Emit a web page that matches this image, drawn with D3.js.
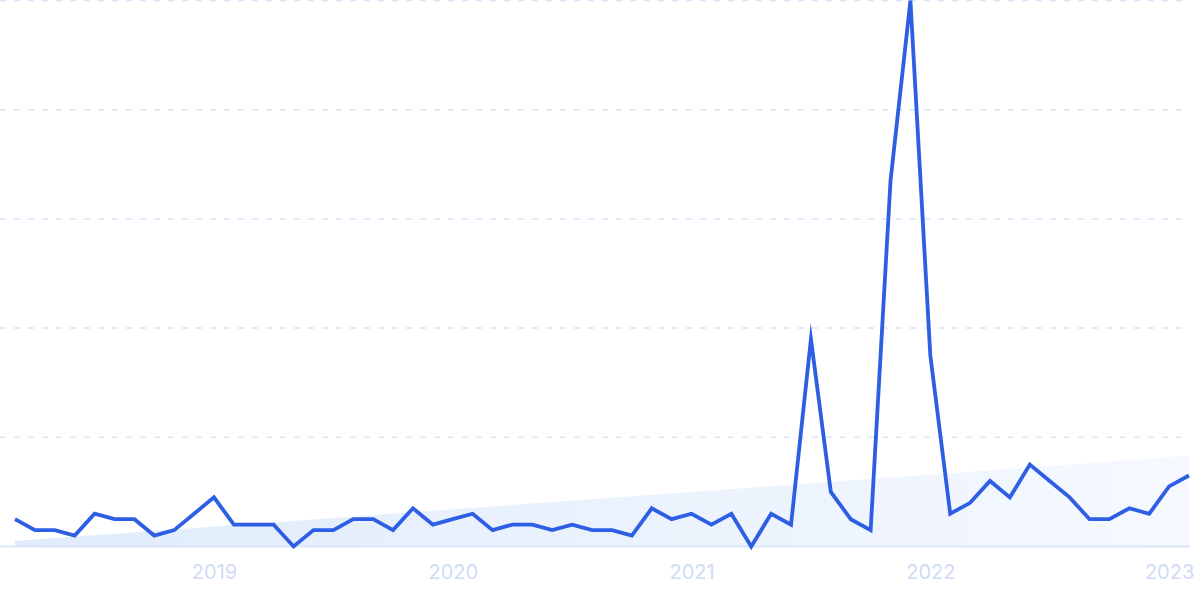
<!DOCTYPE html>
<html>
<head>
<meta charset="utf-8">
<script src="https://cdn.jsdelivr.net/npm/d3@7"></script>
<style>
  html, body { margin: 0; padding: 0; background: #ffffff; }
  svg { display: block; }
</style>
</head>
<body>
<svg id="chart" width="1200" height="599"></svg>
<script>
// Monthly categories, Mar 2018 – Feb 2023
const months = [
  "2018-03","2018-04","2018-05","2018-06","2018-07","2018-08","2018-09","2018-10","2018-11","2018-12",
  "2019-01","2019-02","2019-03","2019-04","2019-05","2019-06","2019-07","2019-08","2019-09","2019-10","2019-11","2019-12",
  "2020-01","2020-02","2020-03","2020-04","2020-05","2020-06","2020-07","2020-08","2020-09","2020-10","2020-11","2020-12",
  "2021-01","2021-02","2021-03","2021-04","2021-05","2021-06","2021-07","2021-08","2021-09","2021-10","2021-11","2021-12",
  "2022-01","2022-02","2022-03","2022-04","2022-05","2022-06","2022-07","2022-08","2022-09","2022-10","2022-11","2022-12",
  "2023-01","2023-02"
];
// Search interest values (0–100)
const values = [
  5, 3, 3, 2, 6, 5, 5, 2, 3, 6,
  9, 4, 4, 4, 0, 3, 3, 5, 5, 3, 7, 4,
  5, 6, 3, 4, 4, 3, 4, 3, 3, 2, 7, 5,
  6, 4, 6, 0, 6, 4, 38, 10, 5, 3, 67, 100,
  35, 6, 8, 12, 9, 15, 12, 9, 5, 5, 7, 6,
  11, 13
];
// Trend line start/end values
const trendValues = [1.0, 16.6];
// Axis tick labels
const tickMonths = ["2019-01","2020-01","2021-01","2022-01","2023-01"];
const tickLabels = ["2019","2020","2021","2022","2023"];
const gridValues = [20, 40, 60, 80, 100];

const svg = d3.select("#chart");

const x = d3.scalePoint().domain(months).range([15, 1189]).padding(0);
const y = d3.scaleLinear().domain([0, 100]).range([546.5, 0.5]);

// gradient for trend area
const defs = svg.append("defs");
const grad = defs.append("linearGradient").attr("id", "trendGrad")
  .attr("x1", "0%").attr("y1", "0%").attr("x2", "100%").attr("y2", "0%");
grad.append("stop").attr("offset", "0%").attr("stop-color", "#e0ecfb");
grad.append("stop").attr("offset", "60%").attr("stop-color", "#ecf3fd");
grad.append("stop").attr("offset", "100%").attr("stop-color", "#f6f9ff");

// gridlines
svg.append("g").selectAll("line").data(gridValues).join("line")
  .attr("x1", 0).attr("x2", 1186)
  .attr("y1", d => y(d)).attr("y2", d => y(d))
  .attr("stroke", "#d9e3fa").attr("stroke-width", 1.5)
  .attr("stroke-dasharray", "6,8");

// trend area
const trendData = [
  { m: months[0], v: trendValues[0] },
  { m: months[months.length - 1], v: trendValues[1] }
];
svg.append("path")
  .datum(trendData)
  .attr("d", d3.area().x(d => x(d.m)).y0(y(0)).y1(d => y(d.v)))
  .attr("fill", "url(#trendGrad)");

// baseline
svg.append("line")
  .attr("x1", 0).attr("x2", 1190)
  .attr("y1", y(0)).attr("y2", y(0))
  .attr("stroke", "#d9e7fa").attr("stroke-width", 2);

// main line
svg.append("path")
  .datum(values)
  .attr("d", d3.line().x((d, i) => x(months[i])).y(d => y(d)))
  .attr("fill", "none")
  .attr("stroke", "#2d5ee4")
  .attr("stroke-width", 3.8)
  .attr("stroke-linejoin", "miter")
  .attr("stroke-miterlimit", 10);

// x axis labels
const axis = d3.axisBottom(x)
  .tickValues(tickMonths)
  .tickFormat((d, i) => tickLabels[i])
  .tickSize(0)
  .tickPadding(0);
const ax = svg.append("g").attr("transform", "translate(0,564)").call(axis);
ax.select(".domain").remove();
ax.selectAll("text")
  .attr("dy", "0.75em")
  .attr("fill", "#d0dbf6")
  .style("font-family", "Inter, 'Noto Sans', sans-serif")
  .style("font-size", "20px");
</script>
</body>
</html>
